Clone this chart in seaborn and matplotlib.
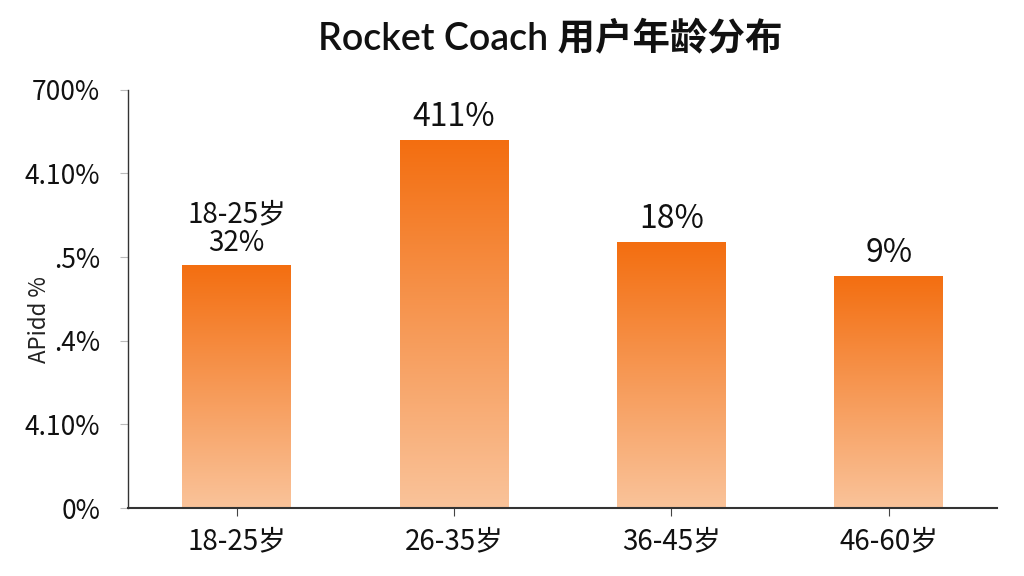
import seaborn as sns
import matplotlib.pyplot as plt
import matplotlib.colors as mcolors
import numpy as np
import pandas as pd

# данные с картинки
age_groups = ['18-25岁', '26-35岁', '36-45岁', '46-60岁']
bar_heights = [29.1, 44.0, 31.8, 27.8]          # высота столбцов в единицах оси
bar_labels = ['18-25岁\n32%', '411%', '18%', '9%']
y_ticks = [0, 10, 20, 30, 40, 50]
y_tick_labels = ['0%', '4.10%', '.4%', '.5%', '4.10%', '700%']

sns.set_theme(style='white')
plt.rcParams['font.family'] = ['Noto Sans CJK SC', 'DejaVu Sans']

df = pd.DataFrame({'age': age_groups, 'share': bar_heights})

fig = plt.figure(figsize=(10.24, 5.76), dpi=100)
ax = fig.add_axes([0.125, 0.118, 0.849, 0.726])

ax = sns.barplot(data=df, x='age', y='share', color='#f47216', width=0.5, ax=ax)

# градиент внутри каждого столбца
cmap = mcolors.LinearSegmentedColormap.from_list('orange_grad', ['#fac39a', '#f36e10'])
grad = np.linspace(0, 1, 256).reshape(-1, 1)
for patch in ax.patches:
    x0, y0 = patch.get_x(), patch.get_y()
    w, h = patch.get_width(), patch.get_height()
    img = ax.imshow(grad, cmap=cmap, aspect='auto', origin='lower',
                    extent=[x0, x0 + w, y0, y0 + h], zorder=patch.get_zorder() + 0.1)
    img.set_clip_path(patch)
    patch.set_edgecolor('none')

for i, (h, txt) in enumerate(zip(bar_heights, bar_labels)):
    ax.annotate(txt, (i, h), xytext=(0, 5), textcoords='offset points',
                ha='center', va='bottom', fontsize=23 if '\n' not in txt else 20,
                linespacing=0.95, color='#111111')

ax.set_xlim(-0.5, 3.5)
ax.set_ylim(0, 50)
ax.set_yticks(y_ticks)
ax.set_yticklabels(y_tick_labels)
ax.tick_params(axis='x', labelsize=20, colors='#111111', length=6, width=0.8,
               pad=7, bottom=True, color='#444444')
ax.tick_params(axis='y', labelsize=19, colors='#111111', length=6, width=0.8,
               pad=14, left=True, color='#bbbbbb')

ax.set_xlabel('')
ax.set_ylabel('APidd %', fontsize=16, color='#222222')
ax.yaxis.set_label_coords(-0.088, 0.45)

sns.despine(ax=ax, top=True, right=True)
ax.spines['left'].set_color('#333333')
ax.spines['bottom'].set_color('#333333')
ax.spines['left'].set_linewidth(1.0)
ax.spines['bottom'].set_linewidth(1.5)

fig.suptitle('Rocket Coach 用户年龄分布', x=0.537, y=0.965, fontsize=27,
             fontweight='semibold', color='#111111',
             family=['Lato', 'Noto Sans CJK SC'])

fig.savefig('out.png', dpi=100)
